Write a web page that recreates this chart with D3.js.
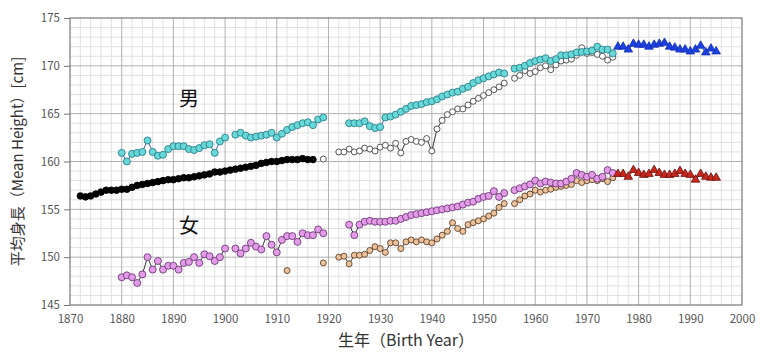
<!DOCTYPE html>
<html>
<head>
<meta charset="utf-8">
<script src="https://cdn.jsdelivr.net/npm/d3@7"></script>
<style>
  body { margin: 0; background: #fff; }
  svg { display: block; }
  text { font-family: "Noto Sans CJK JP", "Noto Sans", sans-serif; }
</style>
</head>
<body>
<div id="chart"></div>
<script>
(function () {
    // x / y axis ticks
    const yearTicks = d3.range(1870, 2001, 10);
    const heightTicks = [145, 150, 155, 160, 165, 170, 175];

    // series: first year + yearly values (null = no data)
    const maleBlackStart = 1872;
    const maleBlack = [
        156.4, 156.3, 156.4, 156.6, 156.8, 157.0, 157.0, 157.0,
        157.1, 157.1, 157.3, 157.5, 157.6, 157.7, 157.8, 157.9, 158.0, 158.1,
        158.1, 158.2, 158.3, 158.3, 158.4, 158.5, 158.6, 158.7, 158.9, 158.9,
        159.0, 159.1, 159.2, 159.3, 159.4, 159.5, 159.6, 159.8, 159.9, 160.0,
        160.0, 160.1, 160.2, 160.2, 160.2, 160.3, 160.2, 160.2
    ];

    const maleCyanStart = 1880;
    const maleCyan = [
        160.9, 160.0, 160.8, 160.9, 161.0, 162.2, 161.0, 160.6, 160.7, 161.3,
        161.6, 161.6, 161.6, 161.3, 161.2, 161.4, 161.7, 161.8, 160.9, 162.1,
        162.5, null, 162.8, 163.0, 162.7, 162.5, 162.6, 162.7, 162.8, 163.0,
        162.5, 162.9, 163.3, 163.6, 163.8, 164.0, 164.1, 163.8, 164.4, 164.6,
        null, null, null, null, 164.0, 164.0, 164.0, 164.2, 163.7, 163.5,
        163.6, 164.6, 164.7, 164.9, 165.2, 165.5, 165.8, 165.9, 166.0, 166.2,
        166.3, 166.5, 166.8, 167.0, 167.2, 167.3, 167.6, 167.8, 168.2, 168.5,
        168.7, 168.9, 169.1, 169.3, 169.2, null, 169.7, 169.8, 170.0, 170.3,
        170.5, 170.65, 170.8, 170.5, 170.7, 171.1, 171.1, 171.2, 171.4, 171.45,
        171.5, 171.6, 172.0, 171.7, 171.7, 171.3
    ];

    const maleWhiteStart = 1919;
    const maleWhite = [
        160.25, null, null,
        161.0, 161.0, 161.3, 161.0, 161.1, 161.4, 161.3, 161.1,
        161.5, 161.7, 161.4, 161.9, 160.9, 162.1, 162.3, 162.1, 162.0, 162.4,
        161.1, 163.4, 164.3, 164.9, 165.2, 165.5, 165.5, 165.9, 166.3, 166.6,
        166.9, 167.2, 167.5, 167.8, 168.2, null,
        168.7, 169.0, 169.5, 169.2, 169.4, 169.8, 170.0, 169.6, 170.1, 170.5,
        170.6, 170.7, 171.1, 171.9, 171.3, 171.4, 171.2, 171.0, 170.6, 170.9
    ];

    const maleBlueStart = 1976;
    const maleBlue = [
        172.0, 172.0, 171.7, 172.3, 172.2, 172.2, 172.0, 172.2, 172.3, 172.4,
        172.0, 171.9, 171.7, 171.7, 171.5, 171.7, 172.1, 171.4, 171.8, 171.5
    ];

    const femalePinkStart = 1880;
    const femalePink = [
        147.9, 148.1, 147.9, 147.3, 148.2, 150.0, 148.7, 149.6, 148.7, 149.1,
        149.1, 148.7, 149.4, 149.5, 150.0, 149.4, 150.3, 150.1, 149.6, 150.0,
        150.9, null, 150.9, 150.4, 150.9, 151.5, 151.1, 150.8, 152.2, 151.3,
        150.5, 151.8, 152.2, 152.2, 151.6, 152.5, 152.3, 152.3, 152.9, 152.5,
        null, null, null, null, 153.4, 152.3, 153.4, 153.7, 153.8, 153.7,
        153.7, 153.7, 153.8, 153.8, 154.0, 154.2, 154.4, 154.5, 154.6, 154.7,
        154.8, 154.9, 155.0, 155.1, 155.2, 155.3, 155.5, 155.7, 155.8, 156.1,
        156.3, 156.4, 156.9, 156.3, 156.7, null, 157.0, 157.2, 157.4, 157.6,
        158.0, 157.7, 157.9, 157.8, 157.7, 157.7, 157.9, 158.2, 158.8, 158.6,
        158.4, 158.6, 158.2, 158.4, 159.1, 158.8
    ];

    const femaleTanStart = 1912;
    const femaleTan = [
        148.6, null, null, null, null, null, null, 149.4, null, null,
        150.0, 150.1, 149.3, 150.2, 150.2, 150.3, 150.7, 151.1,
        150.9, 150.5, 151.5, 151.5, 150.9, 151.6, 151.8, 151.6, 151.8, 151.6,
        151.5, 151.9, 152.3, 152.7, 153.6, 153.0, 152.7, 153.4, 153.6, 153.8,
        154.0, 154.3, 154.6, 155.2, 155.6, null,
        155.6, 156.0, 156.4, 156.6, 157.0, 156.8, 157.0, 157.1, 157.3, 157.4,
        157.5, 157.6, 158.0, 157.8, 158.0, 158.1, 158.0, 158.2, 157.9, 158.3
    ];

    const femaleRedStart = 1976;
    const femaleRed = [
        158.7, 158.7, 158.4, 159.1, 158.8, 158.6, 158.7, 159.1, 158.8, 158.6,
        158.6, 158.7, 159.0, 158.7, 158.6, 158.1, 158.7, 158.4, 158.3, 158.3
    ];

    const width = 767, height = 353;
    const margin = { top: 18, right: 25, bottom: 48, left: 70 };

    const svg = d3.select("#chart").append("svg")
        .attr("width", width)
        .attr("height", height);

    const x = d3.scaleLinear().domain([1870, 2000]).range([margin.left, width - margin.right]);
    const y = d3.scaleLinear().domain([145, 175]).range([height - margin.bottom, margin.top]);

    // minor grid: every 2 years, every 1 cm
    const grid = svg.append("g");
    grid.selectAll("line.vx").data(d3.range(1872, 2000, 2).filter(v => v % 10 !== 0))
        .join("line")
        .attr("x1", d => x(d)).attr("x2", d => x(d))
        .attr("y1", y(145)).attr("y2", y(175))
        .attr("stroke", "#e0e0e0").attr("stroke-width", 1);
    grid.selectAll("line.hy").data(d3.range(146, 175, 1).filter(v => v % 5 !== 0))
        .join("line")
        .attr("x1", x(1870)).attr("x2", x(2000))
        .attr("y1", d => y(d)).attr("y2", d => y(d))
        .attr("stroke", "#e0e0e0").attr("stroke-width", 1);
    // major grid
    grid.append("g").selectAll("line").data(yearTicks.slice(1, -1))
        .join("line")
        .attr("x1", d => x(d)).attr("x2", d => x(d))
        .attr("y1", y(145)).attr("y2", y(175))
        .attr("stroke", "#b0b0b0").attr("stroke-width", 1);
    grid.append("g").selectAll("line").data(heightTicks.slice(1, -1))
        .join("line")
        .attr("x1", x(1870)).attr("x2", x(2000))
        .attr("y1", d => y(d)).attr("y2", d => y(d))
        .attr("stroke", "#b0b0b0").attr("stroke-width", 1);

    svg.append("rect")
        .attr("x", x(1870)).attr("y", y(175))
        .attr("width", x(2000) - x(1870)).attr("height", y(145) - y(175))
        .attr("fill", "none").attr("stroke", "#777").attr("stroke-width", 1.2);

    // axes
    const xAxis = svg.append("g")
        .attr("transform", `translate(0,${y(145)})`)
        .call(d3.axisBottom(x).tickValues(yearTicks).tickFormat(d3.format("d")).tickSize(0).tickPadding(10));
    const yAxis = svg.append("g")
        .attr("transform", `translate(${x(1870)},0)`)
        .call(d3.axisLeft(y).tickValues(heightTicks).tickSize(6).tickPadding(4));
    [xAxis, yAxis].forEach(g => {
        g.select(".domain").remove();
        g.selectAll(".tick line").attr("stroke", "#777");
        g.selectAll("text").attr("fill", "#555").attr("font-size", 11.5)
            .attr("font-family", "Noto Sans, sans-serif");
    });

    svg.append("text")
        .attr("x", (x(1870) + x(2000)) / 2).attr("y", 346)
        .attr("text-anchor", "middle").attr("font-size", 16).attr("fill", "#333")
        .text("生年（Birth Year）");
    svg.append("text")
        .attr("transform", `translate(23,${(y(145) + y(175)) / 2}) rotate(-90)`)
        .attr("text-anchor", "middle").attr("font-size", 15).attr("fill", "#333")
        .text("平均身長（Mean Height）[cm]");

    svg.append("text").attr("x", 189).attr("y", 106).attr("text-anchor", "middle")
        .attr("font-size", 20).attr("fill", "#111").text("男");
    svg.append("text").attr("x", 189).attr("y", 233).attr("text-anchor", "middle")
        .attr("font-size", 20).attr("fill", "#111").text("女");

    function toPoints(start, values) {
        return values.map((v, i) => ({ year: start + i, v: v }));
    }

    const line = d3.line()
        .defined(d => d.v != null)
        .x(d => x(d.year))
        .y(d => y(d.v));

    function drawSeries(start, values, opt) {
        const pts = toPoints(start, values);
        const g = svg.append("g");
        g.append("path")
            .datum(pts)
            .attr("d", line)
            .attr("fill", "none")
            .attr("stroke", opt.line)
            .attr("stroke-width", 1);
        const marks = pts.filter(d => d.v != null);
        if (opt.shape === "triangle") {
            g.selectAll("path.m").data(marks).join("path")
                .attr("d", d3.symbol(d3.symbolTriangle, opt.size))
                .attr("transform", d => `translate(${x(d.year)},${y(d.v)})`)
                .attr("fill", opt.fill).attr("stroke", opt.stroke).attr("stroke-width", 0.8);
        } else {
            g.selectAll("circle").data(marks).join("circle")
                .attr("cx", d => x(d.year)).attr("cy", d => y(d.v))
                .attr("r", opt.r)
                .attr("fill", opt.fill).attr("stroke", opt.stroke).attr("stroke-width", 0.9);
        }
    }

    drawSeries(maleBlackStart, maleBlack, { fill: "#000", stroke: "#000", line: "#000", r: 3.3 });
    drawSeries(maleWhiteStart, maleWhite, { fill: "#fff", stroke: "#444", line: "#333", r: 3 });
    drawSeries(maleCyanStart, maleCyan, { fill: "#66d8d8", stroke: "#2d7f8a", line: "#3a5fb0", r: 3.5 });
    drawSeries(maleBlueStart, maleBlue, { fill: "#1c3fe0", stroke: "#1530b0", line: "#1c3fe0", shape: "triangle", size: 32 });
    drawSeries(femaleTanStart, femaleTan, { fill: "#ebc29c", stroke: "#5e4128", line: "#333", r: 3 });
    drawSeries(femalePinkStart, femalePink, { fill: "#e39be8", stroke: "#6e3a78", line: "#333", r: 3.5 });
    drawSeries(femaleRedStart, femaleRed, { fill: "#c8281c", stroke: "#6a120c", line: "#8a1a10", shape: "triangle", size: 32 });
})();
</script>
</body>
</html>
